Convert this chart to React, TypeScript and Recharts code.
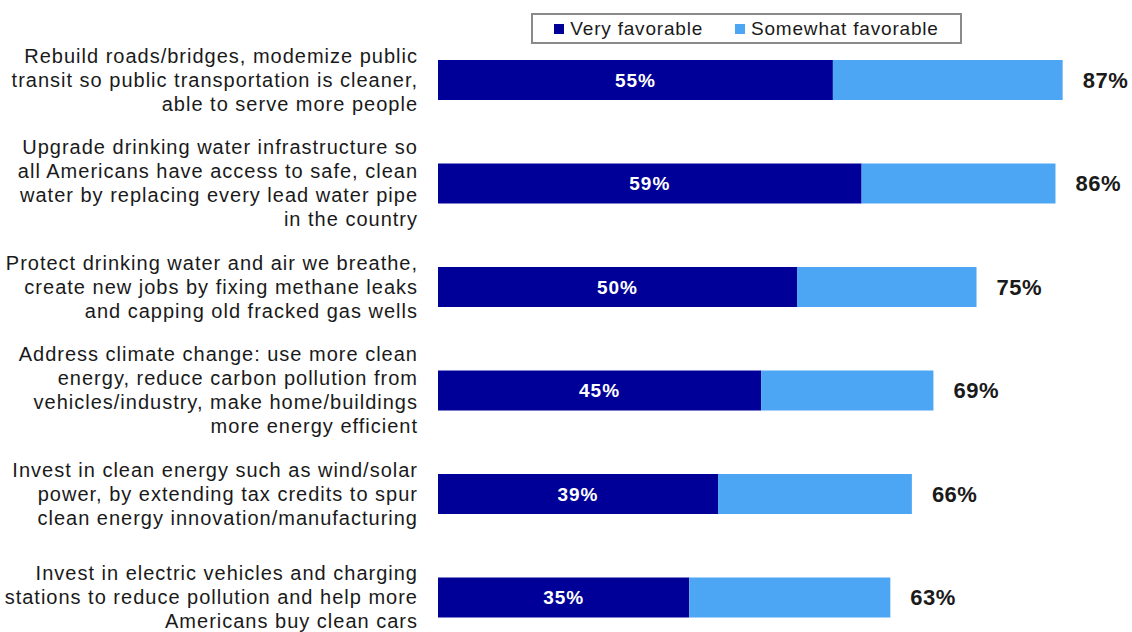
import React from "react";
import { BarChart, Bar, XAxis, YAxis, Legend, LabelList } from "recharts";

const CATEGORIES: string[][] = [
  ["Rebuild roads/bridges, modemize public", "transit so public transportation is cleaner,", "able to serve more people"],
  ["Upgrade drinking water infrastructure so", "all Americans have access to safe, clean", "water by replacing every lead water pipe", "in the country"],
  ["Protect drinking water and air we breathe,", "create new jobs by fixing methane leaks", "and capping old fracked gas wells"],
  ["Address climate change: use more clean", "energy, reduce carbon pollution from", "vehicles/industry, make home/buildings", "more energy efficient"],
  ["Invest in clean energy such as wind/solar", "power, by extending tax credits to spur", "clean energy innovation/manufacturing"],
  ["Invest in electric vehicles and charging", "stations to reduce pollution and help more", "Americans buy clean cars"],
];

const VERY_FAVORABLE = [55, 59, 50, 45, 39, 35];
const SOMEWHAT_FAVORABLE = [32, 27, 25, 24, 27, 28];
const TOTALS = [87, 86, 75, 69, 66, 63];

const DARK = "#000099";
const LIGHT = "#4da6f4";
const TEXT = "#1a1a1a";
const FONT = "'Liberation Sans', Arial, sans-serif";

const data = CATEGORIES.map((lines, i) => ({
  name: String(i),
  lines,
  very: VERY_FAVORABLE[i],
  somewhat: SOMEWHAT_FAVORABLE[i],
  total: TOTALS[i],
}));

function CategoryTick(props: any) {
  const { x, y, payload } = props;
  const lines = CATEGORIES[Number(payload.value)] ?? [];
  const n = lines.length;
  return (
    <text x={x} y={y} textAnchor="end" fill={TEXT} fontSize={20} fontFamily={FONT} style={{ letterSpacing: "1px" }}>
      {lines.map((line, i) => (
        <tspan key={i} x={x} y={y + (i - (n - 1) / 2) * 24} dy="0.35em">
          {line}
        </tspan>
      ))}
    </text>
  );
}

function LegendBox() {
  const items = [
    { label: "Very favorable", color: DARK },
    { label: "Somewhat favorable", color: LIGHT },
  ];
  return (
    <div
      style={{
        boxSizing: "border-box",
        width: 431,
        height: 31,
        border: "2px solid #8a8a8a",
        display: "flex",
        alignItems: "center",
        justifyContent: "center",
        gap: 32,
        fontFamily: FONT,
        fontSize: 19,
        letterSpacing: "0.8px",
        color: TEXT,
        background: "#fff",
      }}
    >
      {items.map((it) => (
        <span key={it.label} style={{ display: "flex", alignItems: "center" }}>
          <span style={{ width: 10, height: 10, background: it.color, marginRight: 6 }} />
          {it.label}
        </span>
      ))}
    </div>
  );
}

export default function App() {
  return (
    <div style={{ position: "absolute", left: 0, top: 0, width: 1132, height: 632, overflow: "hidden", background: "#fff" }}>
      <BarChart
        width={1160}
        height={650}
        data={data}
        layout="vertical"
        margin={{ top: 28, right: 4, bottom: 1, left: 0 }}
        barSize={40}
      >
        <XAxis type="number" domain={[0, 100]} hide />
        <YAxis
          type="category"
          dataKey="name"
          width={438}
          axisLine={false}
          tickLine={false}
          tickSize={0}
          tickMargin={20}
          tick={<CategoryTick />}
          interval={0}
        />
        <Legend
          layout="horizontal"
          verticalAlign="middle"
          content={<LegendBox />}
          wrapperStyle={{ top: 13, left: 531, width: 431, height: 31 }}
        />
        <Bar dataKey="very" name="Very favorable" stackId="a" fill={DARK} isAnimationActive={false}>
          <LabelList
            dataKey="very"
            position="center"
            formatter={(v: any) => `${v}%`}
            fill="#ffffff"
            fontSize={19}
            fontWeight="bold"
            fontFamily={FONT}
            style={{ letterSpacing: "1px" }}
          />
        </Bar>
        <Bar dataKey="somewhat" name="Somewhat favorable" stackId="a" fill={LIGHT} isAnimationActive={false}>
          <LabelList
            dataKey="total"
            position="right"
            offset={20}
            formatter={(v: any) => `${v}%`}
            fill={TEXT}
            fontSize={22}
            fontWeight="bold"
            fontFamily={FONT}
            style={{ letterSpacing: "0.5px" }}
          />
        </Bar>
      </BarChart>
    </div>
  );
}
